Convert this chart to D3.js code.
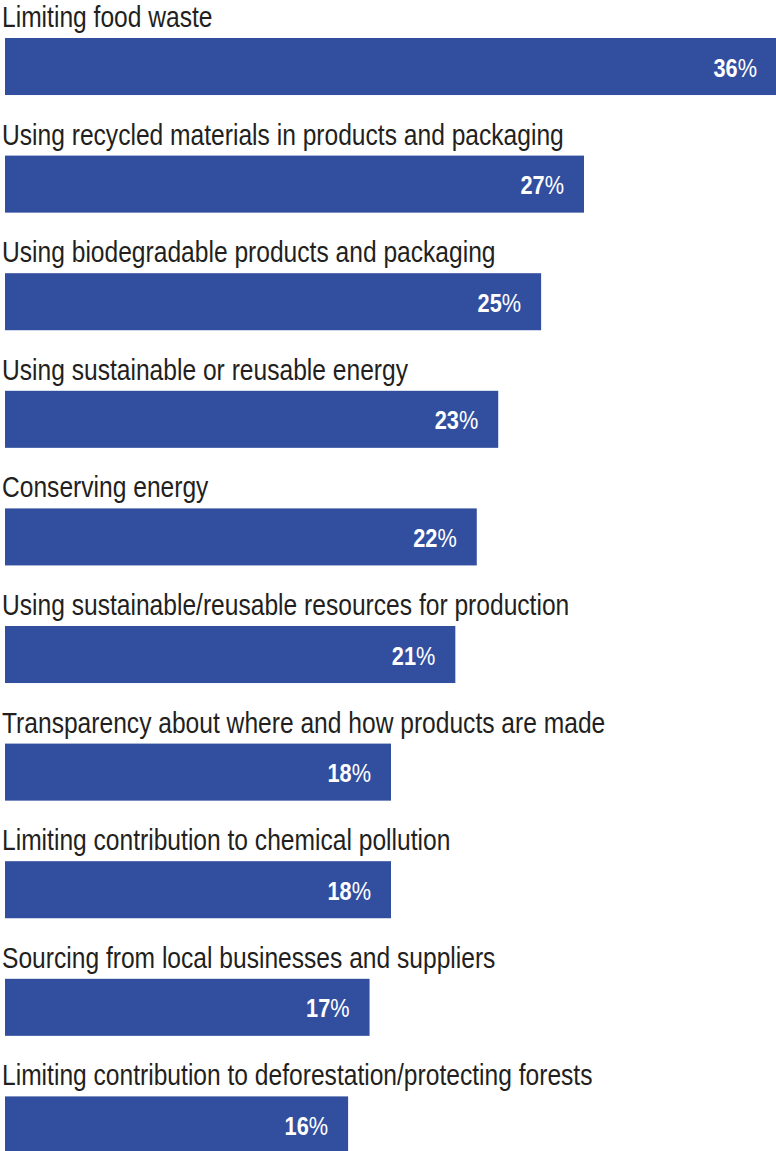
<!DOCTYPE html>
<html>
<head>
<meta charset="utf-8">
<script src="https://cdn.jsdelivr.net/npm/d3@7"></script>
<style>
  body { margin: 0; background: #fff; }
  svg { display: block; }
  .cat { font-family: "Liberation Sans", Arial, sans-serif; font-size: 30px; fill: #231f20; }
  .val { font-family: "Liberation Sans", Arial, sans-serif; font-size: 26.5px; fill: #fff; }
</style>
</head>
<body>
<svg id="chart" width="776" height="1151"></svg>
<script>
const categories = [
    "Limiting food waste",
    "Using recycled materials in products and packaging",
    "Using biodegradable products and packaging",
    "Using sustainable or reusable energy",
    "Conserving energy",
    "Using sustainable/reusable resources for production",
    "Transparency about where and how products are made",
    "Limiting contribution to chemical pollution",
    "Sourcing from local businesses and suppliers",
    "Limiting contribution to deforestation/protecting forests"
];
const values = [36, 27, 25, 23, 22, 21, 18, 18, 17, 16];

const barColor = "#324f9f";
// the original uses a condensed face; squeeze a regular one horizontally
const squeeze = 0.82;

const svg = d3.select("svg#chart");

let data = categories.map((c, i) => ({ cat: c, value: values[i] }));

let xScale = d3.scaleLinear()
    .domain([0, 36])
    .range([5, 777]);

let yScale = d3.scaleBand()
    .domain(categories)
    .range([38, 38 + 117.6 * 9.485])
    .paddingInner(0.515)
    .paddingOuter(0)
    .align(0);

let rows = svg.selectAll("g.row")
    .data(data)
    .enter()
    .append("g")
    .attr("class", "row");

// category label sits above each bar
rows.append("g")
    .attr("transform", d => "translate(2," + (yScale(d.cat) - 11) + ") scale(" + squeeze + ",1)")
    .append("text")
    .attr("class", "cat")
    .text(d => d.cat);

rows.append("rect")
    .attr("x", xScale(0))
    .attr("y", d => yScale(d.cat))
    .attr("width", d => xScale(d.value) - xScale(0))
    .attr("height", yScale.bandwidth())
    .attr("fill", barColor);

// value label, bold number + regular percent sign
let val = rows.append("g")
    .attr("transform", d => "translate(" + (xScale(d.value) - 20) + "," +
        (yScale(d.cat) + yScale.bandwidth() / 2 + 10) + ") scale(" + squeeze + ",1)")
    .append("text")
    .attr("class", "val")
    .attr("text-anchor", "end");

val.append("tspan")
    .attr("font-weight", "bold")
    .text(d => d.value);

val.append("tspan")
    .text("%");
</script>
</body>
</html>
